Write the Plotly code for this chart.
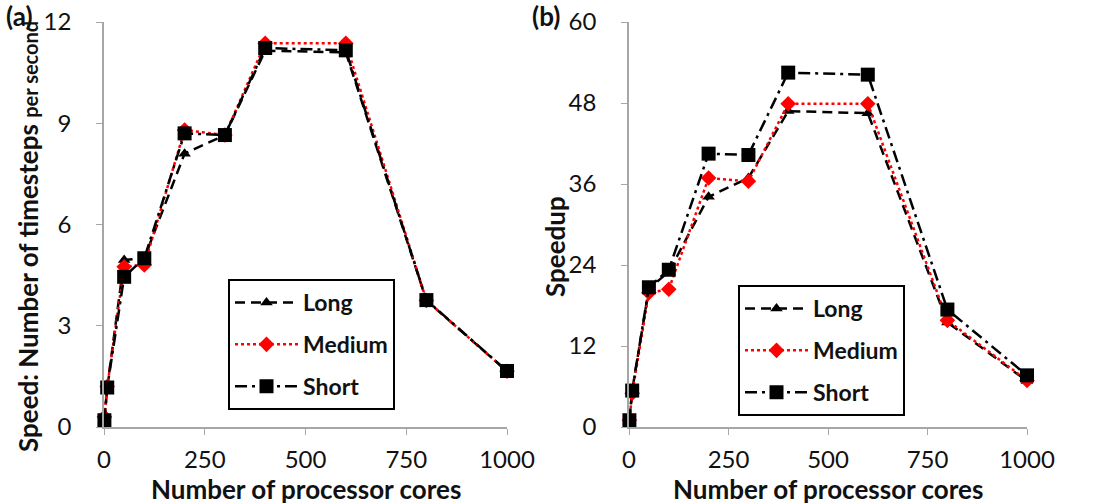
import plotly.graph_objects as go

cores = [1, 8, 50, 100, 200, 300, 400, 600, 800, 1000]

speed_long = [0.2, 1.17, 4.95, 5.0, 8.1, 8.65, 11.15, 11.1, 3.75, 1.65]
speed_medium = [0.3, 1.2, 4.75, 4.8, 8.8, 8.65, 11.37, 11.37, 3.75, 1.65]
speed_short = [0.2, 1.17, 4.45, 5.0, 8.7, 8.65, 11.23, 11.16, 3.76, 1.66]

speedup_long = [1.0, 5.4, 20.5, 23.0, 34.1, 36.9, 46.8, 46.5, 15.5, 6.8]
speedup_medium = [1.0, 5.0, 19.9, 20.4, 36.9, 36.4, 47.9, 47.9, 15.8, 6.9]
speedup_short = [1.0, 5.4, 20.7, 23.3, 40.5, 40.3, 52.5, 52.2, 17.4, 7.65]

names = ["Long", "Medium", "Short"]
x_ticks = [0, 250, 500, 750, 1000]
y_ticks_a = [0, 3, 6, 9, 12]
y_ticks_b = [0, 12, 24, 36, 48, 60]

styles = {
    "Long": dict(line=dict(color="black", dash="10px,6px", width=2.5),
                 marker=dict(symbol="triangle-up", size=11, color="black")),
    "Medium": dict(line=dict(color="#ff0000", dash="dot", width=2.5),
                   marker=dict(symbol="diamond", size=12, color="#ff0000")),
    "Short": dict(line=dict(color="black", dash="12px,5px,3px,5px", width=2.5),
                  marker=dict(symbol="square", size=14, color="black")),
}

FONT = "Lato, 'Open Sans', sans-serif"
fig = go.Figure()

for name, ys in zip(names, [speed_long, speed_medium, speed_short]):
    fig.add_trace(go.Scatter(x=cores, y=ys, name=name, mode="lines+markers",
                             xaxis="x", yaxis="y", legend="legend",
                             legendgroup="a" + name,
                             cliponaxis=False, **styles[name]))
for name, ys in zip(names, [speedup_long, speedup_medium, speedup_short]):
    fig.add_trace(go.Scatter(x=cores, y=ys, name=name, mode="lines+markers",
                             xaxis="x2", yaxis="y2", legend="legend2",
                             legendgroup="b" + name,
                             cliponaxis=False, **styles[name]))

W, H = 1106, 504
ydom = [1 - 427 / H, 1 - 22 / H]
axis_common = dict(showgrid=False, zeroline=False, showline=True,
                   linecolor="#a6a6a6", linewidth=1.5, ticks="outside",
                   tickcolor="#a6a6a6", ticklen=6, automargin=False,
                   tickfont=dict(family=FONT, size=24, color="#111"))

legend_common = dict(xanchor="left", yanchor="top",
                     bordercolor="black", borderwidth=2, bgcolor="white",
                     font=dict(family=FONT, size=23, color="#111", weight="bold"),
                     itemwidth=63, traceorder="grouped", tracegroupgap=9)

fig.update_layout(
    width=W, height=H,
    margin=dict(l=0, r=0, t=0, b=0, autoexpand=False),
    paper_bgcolor="white", plot_bgcolor="white",
    showlegend=True,
    xaxis=dict(domain=[104 / W, 507 / W], range=[0, 1000], tickvals=x_ticks,
               anchor="y", ticklabelstandoff=4, **axis_common),
    yaxis=dict(domain=ydom, range=[0, 12], tickvals=y_ticks_a, anchor="x",
               ticklabelstandoff=20, **axis_common),
    xaxis2=dict(domain=[629 / W, 1027 / W], range=[0, 1000], tickvals=x_ticks,
                anchor="y2", ticklabelstandoff=4, **axis_common),
    yaxis2=dict(domain=ydom, range=[0, 60], tickvals=y_ticks_b, anchor="x2",
                ticklabelstandoff=20, **axis_common),
    legend=dict(x=228 / W, y=1 - 279 / H, **legend_common),
    legend2=dict(x=738 / W, y=1 - 285 / H, **legend_common),
)

ann_font = dict(family=FONT, size=26, color="#111", weight="bold")
annotations = [
    dict(x=(104 + 507) / 2 / W, y=1 - 489 / H, text="Number of processor cores"),
    dict(x=(629 + 1027) / 2 / W, y=1 - 489 / H, text="Number of processor cores"),
    dict(x=28 / W, y=1 - 237 / H, textangle=-90,
         text="Speed: Number of timesteps <span style='font-size:20px'>per second</span>"),
    dict(x=555 / W, y=1 - 247 / H, textangle=-90, text="Speedup"),
    dict(x=19 / W, y=1 - 16 / H, text="(a)"),
    dict(x=546 / W, y=1 - 16 / H, text="(b)"),
]
for a in annotations:
    fig.add_annotation(xref="paper", yref="paper", showarrow=False,
                       xanchor="center", yanchor="middle", font=ann_font, **a)

fig.write_html("out.html")
